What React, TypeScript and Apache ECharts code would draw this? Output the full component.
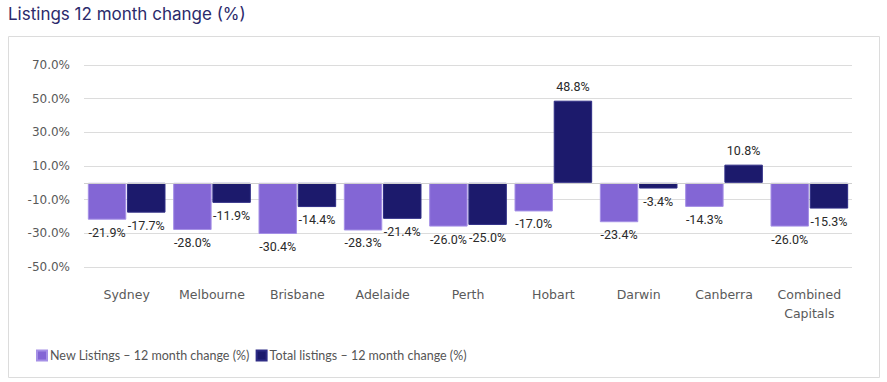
import React, { useEffect, useRef } from "react";
import * as echarts from "echarts";

const categories = ["Sydney", "Melbourne", "Brisbane", "Adelaide", "Perth", "Hobart", "Darwin", "Canberra", "Combined Capitals"];
const newListings = [-21.9, -28.0, -30.4, -28.3, -26.0, -17.0, -23.4, -14.3, -26.0];
const totalListings = [-17.7, -11.9, -14.4, -21.4, -25.0, 48.8, -3.4, 10.8, -15.3];
const seriesNames = ["New Listings \u2013 12 month change (%)", "Total listings \u2013 12 month change (%)"];
const titleText = "Listings 12 month change (%)";
const yMin = -50;
const yMax = 70;

export default function App() {
  const ref = useRef<HTMLDivElement>(null);
  useEffect(() => {
    if (!ref.current) return;
    const chart = echarts.init(ref.current, null, { renderer: "svg" });
    const labelCommon = (v: number) => ({
      show: true,
      position: v >= 0 ? "top" : "bottom",
      distance: v >= 0 ? 8 : 6,
      fontFamily: "Roboto",
      fontSize: 12.5,
      color: "#2a2a2a",
      formatter: (p: any) => p.value.toFixed(1) + "%",
    });
    const mk = (vals: number[]) =>
      vals.map((v) => ({ value: v, label: labelCommon(v) }));
    chart.setOption({
      animation: false,
      backgroundColor: "#fff",
      graphic: [
        {
          type: "rect",
          shape: { x: 8.5, y: 36.5, width: 871, height: 341 },
          style: { fill: "#fff", stroke: "#dcdcdc", lineWidth: 1 },
          z: -10,
        },
        {
          type: "text",
          left: 8,
          top: 5,
          style: { text: titleText, fontFamily: "Inter", fontSize: 17, fill: "#2b2a6b" },
        },
      ],
      legend: {
        left: 36,
        top: 349,
        padding: 0,
        itemWidth: 10,
        itemHeight: 10,
        itemGap: 6,
        icon: "rect",
        textStyle: { fontFamily: "Lato", fontSize: 12.5, color: "#555", padding: [0, 0, 0, -2] },
        data: seriesNames,
      },
      grid: { left: 84, right: 35, top: 65, bottom: 115 },
      xAxis: {
        type: "category",
        data: categories,
        axisLine: { show: false, onZero: false },
        axisTick: { show: false },
        axisLabel: {
          margin: 18,
          fontFamily: "DejaVu Sans",
          fontSize: 12.5,
          color: "#5a5a5a",
          lineHeight: 19,
          interval: 0,
          formatter: (v: string) => (v === "Combined Capitals" ? "Combined\nCapitals" : v),
        },
      },
      yAxis: {
        type: "value",
        min: yMin,
        max: yMax,
        interval: 10,
        axisLine: { show: false },
        axisTick: { show: false },
        axisLabel: {
          margin: 14,
          fontFamily: "DejaVu Sans",
          fontSize: 12,
          color: "#595959",
          formatter: (v: number) => (Math.round(v) % 20 !== 0 ? v.toFixed(1) + "%" : ""),
        },
        splitLine: { lineStyle: { color: ["#dcdcdc", "transparent"], width: 1 } },
      },
      series: [
        {
          name: seriesNames[0],
          type: "bar",
          data: mk(newListings),
          barGap: "2%",
          barCategoryGap: "9%",
          itemStyle: { color: "#8366d5", borderColor: "#a590e6", borderWidth: 1 },
          markLine: {
            silent: true,
            symbol: "none",
            label: { show: false },
            lineStyle: { color: "#cfcfcf", type: "solid", width: 1 },
            data: [{ yAxis: 0 }],
          },
        },
        {
          name: seriesNames[1],
          type: "bar",
          data: mk(totalListings),
          barGap: "2%",
          barCategoryGap: "9%",
          itemStyle: { color: "#1c1a6c", borderColor: "#2e2c85", borderWidth: 1 },
        },
      ],
    });
    return () => chart.dispose();
  }, []);
  return <div ref={ref} style={{ position: "absolute", left: 0, top: 0, width: 887, height: 382 }} />;
}
